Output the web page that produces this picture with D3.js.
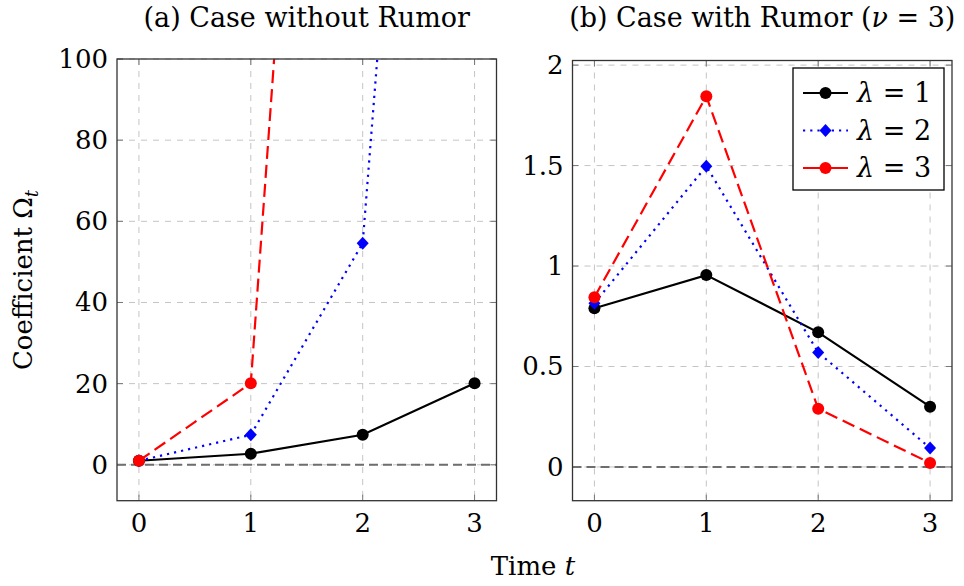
<!DOCTYPE html>
<html><head><meta charset="utf-8">
<script src="https://cdn.jsdelivr.net/npm/d3@7"></script>
<style>body{margin:0;background:#fff}svg{display:block}</style>
</head><body>
<script>
const times = [0, 1, 2, 3];
const seriesNames = ["λ = 1", "λ = 2", "λ = 3"];
// Panel (a): without rumor
const noRumor1 = [1, 2.72, 7.39, 20.09];
const noRumor2 = [1, 7.39, 54.6, 403.4];
const noRumor3 = [1, 20.09, 403.4, 8103];
// Panel (b): with rumor (nu = 3)
const rumor1 = [0.79, 0.955, 0.67, 0.30];
const rumor2 = [0.815, 1.497, 0.57, 0.094];
const rumor3 = [0.845, 1.845, 0.29, 0.02];
const yTicksA = [0, 20, 40, 60, 80, 100];
const yTicksB = [0, 0.5, 1, 1.5, 2];
const xTicks = [0, 1, 2, 3];

const FONT = "'DejaVu Serif', 'Liberation Serif', 'Noto Serif', 'Times New Roman', serif";
const W = 964, H = 586;
const svg = d3.select("body").append("svg").attr("width", W).attr("height", H)
  .attr("font-family", FONT);
const styles = [
  {color: "#000", dash: null, marker: "circle"},
  {color: "#0000ff", dash: "2.2,5", marker: "diamond"},
  {color: "#ff0000", dash: "13,6", marker: "circle"}
];

function panel(id, left, right, top, bottom, yDom, yTicks, data, title, fmt) {
  const x = d3.scaleLinear().domain([-0.196, 3.196]).range([left, right]);
  const y = d3.scaleLinear().domain(yDom).range([bottom, top]);
  const g = svg.append("g");
  g.append("clipPath").attr("id", id).append("rect")
    .attr("x", left).attr("y", top).attr("width", right - left).attr("height", bottom - top);
  g.selectAll(".gx").data(xTicks).join("line")
    .attr("x1", d => x(d)).attr("x2", d => x(d)).attr("y1", top).attr("y2", bottom)
    .attr("stroke", "#c4c4c4").attr("stroke-width", 1).attr("stroke-dasharray", "6,6");
  g.selectAll(".gy").data(yTicks).join("line")
    .attr("x1", left).attr("x2", right).attr("y1", d => y(d)).attr("y2", d => y(d))
    .attr("stroke", "#c4c4c4").attr("stroke-width", 1).attr("stroke-dasharray", "6,6");
  g.append("line").attr("x1", left).attr("x2", right).attr("y1", y(0)).attr("y2", y(0))
    .attr("stroke", "#6e6e6e").attr("stroke-width", 2).attr("stroke-dasharray", "9,5");
  g.selectAll(".tx").data(xTicks).join("path")
    .attr("d", d => `M${x(d)},${bottom}v-6M${x(d)},${top}v6`)
    .attr("stroke", "#777").attr("stroke-width", 1);
  g.selectAll(".ty").data(yTicks).join("path")
    .attr("d", d => `M${left},${y(d)}h6M${right},${y(d)}h-6`)
    .attr("stroke", "#777").attr("stroke-width", 1);
  const plot = g.append("g").attr("clip-path", `url(#${id})`);
  const line = d3.line().x((d, i) => x(times[i])).y(d => y(d));
  data.forEach((vals, k) => {
    const s = styles[k];
    plot.append("path").datum(vals).attr("d", line).attr("fill", "none")
      .attr("stroke", s.color).attr("stroke-width", 2.2)
      .attr("stroke-dasharray", s.dash);
    vals.forEach((v, i) => {
      if (s.marker === "circle") {
        plot.append("circle").attr("cx", x(times[i])).attr("cy", y(v)).attr("r", 6).attr("fill", s.color);
      } else {
        plot.append("path").attr("transform", `translate(${x(times[i])},${y(v)})`)
          .attr("d", "M0,-6.5L6,0L0,6.5L-6,0Z").attr("fill", s.color);
      }
    });
  });
  g.append("rect").attr("x", left).attr("y", top).attr("width", right - left).attr("height", bottom - top)
    .attr("fill", "none").attr("stroke", "#333").attr("stroke-width", 1.3);
  g.selectAll(".lx").data(xTicks).join("text")
    .attr("x", d => x(d)).attr("y", 532).attr("text-anchor", "middle")
    .attr("font-size", 26).text(d => d);
  g.selectAll(".ly").data(yTicks).join("text")
    .attr("x", left - 9).attr("y", d => y(d) + 9).attr("text-anchor", "end")
    .attr("font-size", 26).text(fmt);
  g.append("text").attr("x", (left + right) / 2).attr("y", 27).attr("text-anchor", "middle")
    .attr("font-size", 27).html(title);
  return {x, y};
}

panel("clipA", 117, 496.5, 59, 500.7, [-8.85, 100], yTicksA, [noRumor1, noRumor2, noRumor3],
  "(a) Case without Rumor", d => d);
panel("clipB", 572.5, 952, 60.5, 500.7, [-0.168, 2.023], yTicksB, [rumor1, rumor2, rumor3],
  '(b) Case with Rumor (<tspan font-style="italic">ν</tspan> = 3)', d => d);

svg.append("text").attr("transform", "translate(32,280) rotate(-90)").attr("text-anchor", "middle")
  .attr("font-size", 26).html('Coefficient Ω<tspan font-style="italic" font-size="18" dy="6">t</tspan>');
svg.append("text").attr("x", 533).attr("y", 575).attr("text-anchor", "middle")
  .attr("font-size", 26).html('Time <tspan font-style="italic">t</tspan>');

const lg = svg.append("g");
lg.append("rect").attr("x", 793).attr("y", 68).attr("width", 151).attr("height", 122)
  .attr("fill", "#fff").attr("stroke", "#000").attr("stroke-width", 1.3);
seriesNames.forEach((name, k) => {
  const s = styles[k];
  const yy = 93 + k * 37.5;
  lg.append("line").attr("x1", 803).attr("x2", 848).attr("y1", yy).attr("y2", yy)
    .attr("stroke", s.color).attr("stroke-width", 2.2).attr("stroke-dasharray", k === 1 ? "2.2,5" : null);
  if (s.marker === "circle") lg.append("circle").attr("cx", 825.5).attr("cy", yy).attr("r", 6).attr("fill", s.color);
  else lg.append("path").attr("transform", `translate(825.5,${yy})`).attr("d", "M0,-6.5L6,0L0,6.5L-6,0Z").attr("fill", s.color);
  const parts = name.split(" = ");
  lg.append("text").attr("x", 857).attr("y", yy + 9).attr("font-size", 27)
    .html(`<tspan font-style="italic">${parts[0]}</tspan> = ${parts[1]}`);
});
</script>
</body></html>
